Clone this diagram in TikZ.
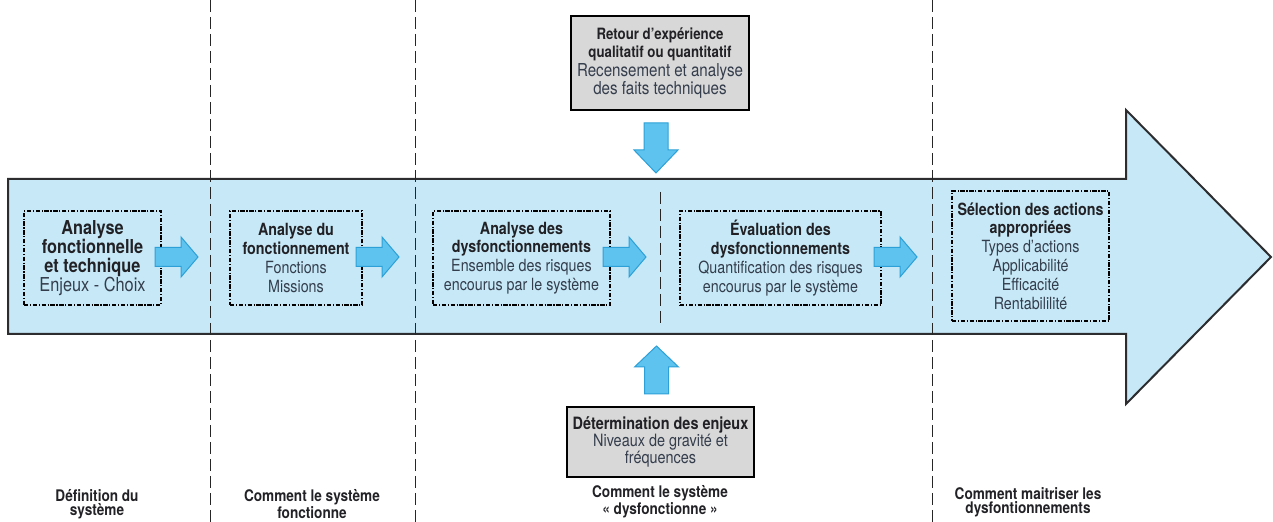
\documentclass[tikz,border=0pt]{standalone}
\usepackage{fontspec}
\setmainfont{TeX Gyre Heros}[FakeStretch=0.85]
\usetikzlibrary{calc}

\definecolor{bodyblue}{RGB}{198,232,247}
\definecolor{arrowblue}{RGB}{94,195,238}
\definecolor{arrowedge}{RGB}{45,160,215}
\definecolor{panelgray}{RGB}{216,216,216}
\definecolor{inktext}{RGB}{52,61,76}
\definecolor{inkbold}{RGB}{34,34,38}
\definecolor{outlinegray}{RGB}{45,45,48}

\newcommand\hd[1]{{\color{inkbold}\bfseries #1}}
\newcommand\hdsmall[1]{{\fontsize{7.8}{9.3}\selectfont\color{inkbold}\bfseries #1}}

\tikzset{
  stagebox/.style={draw=black, line width=1pt,
    dash pattern=on 2.2pt off 0.8pt on 0.6pt off 0.8pt,
    align=center, text=inktext, inner sep=0pt,
    font=\fontsize{8.4}{9.4}\selectfont},
  inputbox/.style={draw=black, line width=1pt, fill=panelgray,
    align=center, text=inktext, inner sep=0pt,
    font=\fontsize{8.9}{9.3}\selectfont},
  caption/.style={align=center, text=inkbold,
    font=\bfseries\fontsize{8}{7.2}\selectfont},
  phase/.style={line width=0.5pt, draw=black!85, dash pattern=on 6pt off 2.5pt},
  blockarrow/.style={fill=arrowblue, draw=arrowedge, line width=0.5pt},
  pics/rightblk/.style={code={
    \draw[blockarrow] (0,-9.5) -- (26,-9.5) -- (26,-20) -- (43,0)
      -- (26,20) -- (26,9.5) -- (0,9.5) -- cycle;}},
  pics/downblk/.style={code={
    \draw[blockarrow] (-12,0) -- (12,0) -- (12,27) -- (22,27) -- (0,50)
      -- (-22,27) -- (-12,27) -- cycle;}},
  pics/upblk/.style={code={
    \draw[blockarrow] (-12,0) -- (12,0) -- (12,-27) -- (22,-27) -- (0,-48)
      -- (-22,-27) -- (-12,-27) -- cycle;}},
}

\begin{document}
\begin{tikzpicture}[x=0.5pt, y=-0.5pt]
\useasboundingbox (0,0) rectangle (1273,522);

% main process arrow
\draw[fill=bodyblue, draw=outlinegray, line width=1pt, line join=miter]
  (8,179) -- (1126,179) -- (1126,110) -- (1271,257) -- (1126,404)
  -- (1126,334) -- (8,334) -- cycle;

% phase separators
\draw[phase] (210,0) -- (210,522);
\draw[phase] (415,0) -- (415,522);
\draw[phase] (932,0) -- (932,522);
\draw[phase] (660,192) -- (660,326);

% stages
\node[stagebox, minimum width=68.5pt, minimum height=47pt,
      font=\fontsize{9.6}{9.6}\selectfont] (b1) at (92.5,258)
  {\hd{Analyse}\\\hd{fonctionnelle}\\\hd{et technique}\\Enjeux - Choix};
\node[stagebox, minimum width=66pt, minimum height=47pt] (b2) at (296,258)
  {\hd{Analyse du}\\\hd{fonctionnement}\\Fonctions\\Missions};
\node[stagebox, minimum width=88.5pt, minimum height=47pt] (b3) at (521.5,258)
  {\hd{Analyse des}\\\hd{dysfonctionnements}\\Ensemble des risques\\encourus par le système};
\node[stagebox, minimum width=100.5pt, minimum height=47pt] (b4) at (780.5,258)
  {\hd{Évaluation des}\\\hd{dysfonctionnements}\\Quantification des risques\\encourus par le système};
\node[stagebox, minimum width=78.5pt, minimum height=65pt] (b5) at (1030.5,256)
  {\hd{Sélection des actions}\\\hd{appropriées}\\Types d’actions\\Applicabilité\\Efficacité\\Rentabililité};

% stage-to-stage block arrows
\path ($(b1.east)+(-7,-1)$) coordinate (a1) pic {rightblk};
\path ($(b2.east)+(-7,-1)$) coordinate (a2) pic {rightblk};
\path ($(b3.east)+(-8,-1)$) coordinate (a3) pic {rightblk};
\path ($(b4.east)+(-8,-1)$) coordinate (a4) pic {rightblk};

% inputs from above and below
\node[inputbox, minimum width=89pt, minimum height=47pt] (rex) at (660,63)
  {\hdsmall{Retour d’expérience}\\\hdsmall{qualitatif ou quantitatif}\\Recensement et analyse\\des faits techniques};
\node[inputbox, minimum width=93.5pt, minimum height=35pt,
      font=\fontsize{8.5}{8.5}\selectfont] (enj) at (660.5,442)
  {\hd{Détermination des enjeux}\\Niveaux de gravité et\\fréquences};

\path ($(rex.south)+(-4,12)$) coordinate (dn) pic {downblk};
\path ($(enj.north)+(-4,-12)$) coordinate (up) pic {upblk};

% phase captions
\node[caption] (c1) at (97,504) {Définition du\\système};
\node[caption] (c2) at (312,504) {Comment le système\\fonctionne};
\node[caption] (c3) at (660,502) {Comment le système\\« dysfonctionne »};
\node[caption] (c4) at (1028,502) {Comment maitriser les\\dysfontionnements};
\end{tikzpicture}
\end{document}
